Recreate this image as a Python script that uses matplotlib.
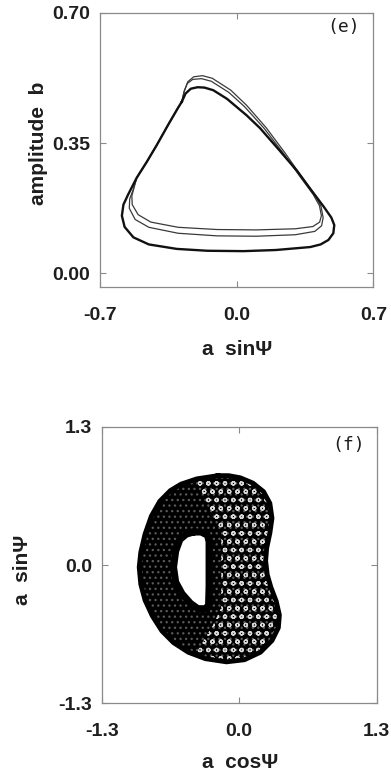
import matplotlib
matplotlib.use("Agg")
import matplotlib.pyplot as plt
from matplotlib.path import Path
from matplotlib.patches import PathPatch
from matplotlib.font_manager import FontProperties

# --- panel (e): three closed orbits in (a sinPsi, b) plane
loop_a_x = [-0.281, -0.262, -0.235, -0.200, -0.165, -0.120, -0.050, 0.050, 0.120, 0.220,
            0.310, 0.380, 0.445, 0.485, 0.500, 0.495, 0.470, 0.430, 0.377, 0.200,
            0.035, -0.150, -0.307, -0.450, -0.529, -0.574, -0.588, -0.580, -0.555, -0.512,
            -0.460, -0.409, -0.350, -0.300, -0.281]
loop_a_y = [0.461, 0.483, 0.496, 0.500, 0.499, 0.492, 0.469, 0.425, 0.390, 0.330,
            0.275, 0.225, 0.180, 0.150, 0.130, 0.108, 0.090, 0.078, 0.071, 0.063,
            0.060, 0.061, 0.066, 0.078, 0.097, 0.125, 0.155, 0.185, 0.213, 0.257,
            0.300, 0.345, 0.400, 0.445, 0.461]

loop_b_x = [-0.281, -0.268, -0.250, -0.220, -0.175, -0.125, -0.030, 0.050, 0.150, 0.250,
            0.330, 0.400, 0.432, 0.443, 0.435, 0.400, 0.300, 0.100, -0.100, -0.300,
            -0.450, -0.520, -0.550, -0.548, -0.530, -0.512, -0.460, -0.409, -0.350, -0.300,
            -0.281]
loop_b_y = [0.461, 0.490, 0.515, 0.528, 0.531, 0.524, 0.492, 0.452, 0.392, 0.322,
            0.262, 0.212, 0.180, 0.150, 0.128, 0.113, 0.104, 0.100, 0.101, 0.108,
            0.124, 0.145, 0.175, 0.200, 0.225, 0.257, 0.300, 0.345, 0.400, 0.445,
            0.461]

loop_c_x = [-0.281, -0.270, -0.253, -0.225, -0.180, -0.130, -0.040, 0.040, 0.140, 0.240,
            0.322, 0.392, 0.424, 0.434, 0.425, 0.390, 0.300, 0.100, -0.100, -0.300,
            -0.440, -0.505, -0.535, -0.537, -0.525, -0.512, -0.460, -0.409, -0.350, -0.300,
            -0.281]
loop_c_y = [0.461, 0.488, 0.510, 0.521, 0.523, 0.516, 0.486, 0.448, 0.390, 0.322,
            0.262, 0.212, 0.182, 0.155, 0.138, 0.126, 0.120, 0.117, 0.118, 0.124,
            0.138, 0.158, 0.185, 0.208, 0.232, 0.257, 0.300, 0.345, 0.400, 0.445,
            0.461]

# --- panel (f): quasi-periodic band in (a cosPsi, a sinPsi) plane
outer_x = [-0.20, -0.40, -0.55, -0.65, -0.75, -0.83, -0.89, -0.93, -0.945, -0.93,
           -0.89, -0.82, -0.73, -0.62, -0.48, -0.32, -0.12, 0.05, 0.20, 0.31,
           0.37, 0.38, 0.35, 0.30, 0.265, 0.25, 0.26, 0.29, 0.31, 0.29,
           0.23, 0.13, 0.01, -0.10]
outer_y = [0.84, 0.81, 0.76, 0.70, 0.60, 0.46, 0.29, 0.12, -0.02, -0.18,
           -0.33, -0.48, -0.62, -0.73, -0.82, -0.88, -0.91, -0.89, -0.82, -0.71,
           -0.59, -0.47, -0.34, -0.21, -0.09, 0.04, 0.16, 0.30, 0.44, 0.58,
           0.69, 0.77, 0.82, 0.84]
hole_x = [-0.43, -0.50, -0.56, -0.60, -0.62, -0.60, -0.54, -0.46, -0.39, -0.32,
          -0.29, -0.285, -0.285, -0.285, -0.30, -0.36]
hole_y = [0.31, 0.29, 0.24, 0.13, -0.02, -0.16, -0.27, -0.36, -0.41, -0.41,
          -0.38, -0.20, 0.05, 0.22, 0.28, 0.31]
# region of the band where the crossing loops leave open gaps
open_x = [-0.45, -0.25, -0.10, 0.05, 0.20, 0.40, 0.40, 0.20, 0.05, -0.10, -0.30, -0.45,
          -0.24, -0.17, -0.17, -0.26]
open_y = [0.90, 0.90, 0.90, 0.90, 0.85, 0.60, -0.70, -0.95, -0.95, -0.95, -0.95, -0.90,
          -0.55, -0.40, 0.30, 0.45]

fig = plt.figure(figsize=(3.91, 7.80), dpi=100)
plt.rcParams['hatch.linewidth'] = 0.9

tick_fp = FontProperties(family='Liberation Sans', weight='bold', size=14)
label_font = dict(family='Liberation Sans', weight='bold', size=15)
ink = '#1e1e1e'


def style_axes(ax):
    for s in ax.spines.values():
        s.set_color('#8a8a8a')
        s.set_linewidth(0.9)
    ax.tick_params(direction='in', length=4, color='#8a8a8a', top=True, right=True)
    for lab in ax.get_xticklabels() + ax.get_yticklabels():
        lab.set_fontproperties(tick_fp)
        lab.set_color(ink)


# panel (e)
ax1 = fig.add_axes([0.2558, 0.6317, 0.699, 0.352])
ax1.plot(loop_c_x, loop_c_y, color='#3a3a3a', lw=0.9)
ax1.plot(loop_b_x, loop_b_y, color='#3a3a3a', lw=0.9)
ax1.plot(loop_a_x, loop_a_y, color='#111111', lw=1.7)
ax1.set_xlim(-0.7, 0.7)
ax1.set_ylim(-0.037, 0.70)
ax1.set_xticks([-0.7, 0.0, 0.7])
ax1.set_xticklabels(['-0.7', '0.0', '0.7'])
ax1.set_yticks([0.0, 0.35, 0.70])
ax1.set_yticklabels(['0.00', '0.35', '0.70'])
style_axes(ax1)
ax1.tick_params(axis='x', pad=14)
ax1.tick_params(axis='y', pad=7)
ax1.text(0.89, 0.948, '(e)', transform=ax1.transAxes, ha='center', va='center',
         family='DejaVu Sans Mono', fontsize=13, color=ink)
fig.text(38 / 391, 1 - 143 / 780, 'amplitude  b', rotation=90, ha='center', va='center',
         color=ink, **label_font)
fig.text(237 / 391, 1 - 350 / 780, 'a  sinΨ', ha='center', va='center',
         color=ink, **label_font)

# panel (f)
ax2 = fig.add_axes([0.260, 0.0983, 0.7034, 0.3546])
ov = list(zip(outer_x, outer_y))
hv = list(zip(hole_x, hole_y))[::-1]
verts = ov + [ov[0]] + hv + [hv[0]]
codes = ([Path.MOVETO] + [Path.LINETO] * (len(ov) - 1) + [Path.CLOSEPOLY]
         + [Path.MOVETO] + [Path.LINETO] * (len(hv) - 1) + [Path.CLOSEPOLY])
band = Path(verts, codes)
ax2.add_patch(PathPatch(band, facecolor='black', edgecolor='#5a5a5a', hatch='...', lw=0))
gaps = ax2.fill(open_x, open_y, facecolor='none', edgecolor='#d8d8d8', hatch='oo', lw=0)[0]
gaps.set_clip_path(PathPatch(band, transform=ax2.transData))
ax2.plot(outer_x + outer_x[:1], outer_y + outer_y[:1], color='black', lw=3.5)
ax2.plot(hole_x + hole_x[:1], hole_y + hole_y[:1], color='black', lw=5.0)
ax2.set_xlim(-1.3, 1.3)
ax2.set_ylim(-1.3, 1.3)
ax2.set_xticks([-1.3, 0.0, 1.3])
ax2.set_xticklabels(['-1.3', '0.0', '1.3'])
ax2.set_yticks([-1.3, 0.0, 1.3])
ax2.set_yticklabels(['-1.3', '0.0', '1.3'])
style_axes(ax2)
ax2.tick_params(axis='x', pad=14)
ax2.tick_params(axis='y', pad=7)
ax2.text(0.896, 0.934, '(f)', transform=ax2.transAxes, ha='center', va='center',
         family='DejaVu Sans Mono', fontsize=13, color=ink)
fig.text(22 / 391, 1 - 570 / 780, 'a  sinΨ', rotation=90, ha='center', va='center',
         color=ink, **label_font)
fig.text(240 / 391, 1 - 762 / 780, 'a  cosΨ', ha='center', va='center',
         color=ink, **label_font)

fig.savefig('out.png', dpi=100)
